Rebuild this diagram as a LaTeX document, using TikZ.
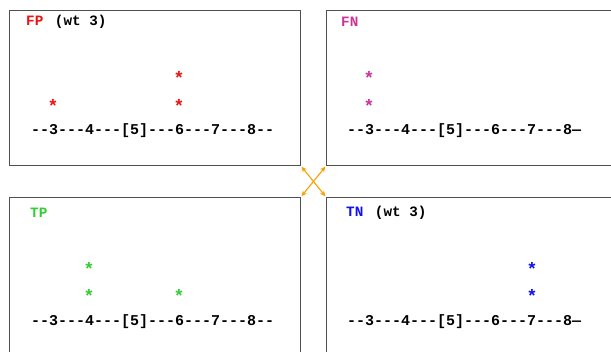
\documentclass[tikz,border=0pt]{standalone}
\usepackage{fontspec}
\usetikzlibrary{arrows.meta}
\newfontfamily\monofam{Liberation Mono}
\definecolor{fpred}{HTML}{F01010}
\definecolor{fnpink}{HTML}{CC3399}
\definecolor{tpgreen}{HTML}{33CC33}
\definecolor{tnblue}{HTML}{1010F0}
\definecolor{arroworange}{HTML}{F7A000}
\definecolor{boxgray}{HTML}{505050}
\begin{document}
\begin{tikzpicture}[x=1pt,y=-1pt,
  panel/.style={draw=boxgray,line width=0.9pt,anchor=north west,inner sep=0pt,rectangle},
  title/.style={anchor=west,inner sep=0pt,font=\monofam\bfseries\fontsize{14.3}{16}\selectfont},
  numline/.style={anchor=west,inner sep=0pt,font=\monofam\bfseries\fontsize{15}{17}\selectfont},
  astk/.style={anchor=base,inner sep=0pt,font=\monofam\bfseries\fontsize{18}{20}\selectfont},
  swap/.style={draw=arroworange,line width=1.1pt,{Stealth[length=5.5pt,width=5pt]}-{Stealth[length=5.5pt,width=5pt]},shorten >=1pt,shorten <=1pt}]
\useasboundingbox (0,0) rectangle (611,352);
\clip (0,0) rectangle (611,352);
% panels
\node[panel,minimum width=291pt,minimum height=155pt] (fp) at (9,10) {};
\node[panel,minimum width=300pt,minimum height=155pt] (fn) at (326,10) {};
\node[panel,minimum width=291pt,minimum height=170pt] (tp) at (9,197) {};
\node[panel,minimum width=300pt,minimum height=170pt] (tn) at (326,197) {};
% titles
\node[title] (fpt) at (26,22) {\textcolor{fpred}{FP}\hspace{3pt} (wt 3)};
\node[title] (fnt) at (341,22) {\textcolor{fnpink}{FN}};
\node[title] (tpt) at (30,213) {\textcolor{tpgreen}{TP}};
\node[title] (tnt) at (346,213) {\textcolor{tnblue}{TN}\hspace{3pt} (wt 3)};
% number lines
\node[numline] (fpl) at (31,131) {--3---4---[5]---6---7---8--};
\node[numline] (fnl) at (347,131) {--3---4---[5]---6---7---8—};
\node[numline] (tpl) at (31,322) {--3---4---[5]---6---7---8--};
\node[numline] (tnl) at (347,322) {--3---4---[5]---6---7---8—};
% stars (baseline placed below glyph centre)
\node[astk,text=fpred] (fps1) at (53,112.5) {*};
\node[astk,text=fpred] (fps2) at (179,112.5) {*};
\node[astk,text=fpred] (fps3) at (179,84.5) {*};
\node[astk,text=fnpink] (fns1) at (369,112.5) {*};
\node[astk,text=fnpink] (fns2) at (369,84.5) {*};
\node[astk,text=tpgreen] (tps1) at (89,302.5) {*};
\node[astk,text=tpgreen] (tps2) at (89,275.5) {*};
\node[astk,text=tpgreen] (tps3) at (179,302.5) {*};
\node[astk,text=tnblue] (tns1) at (532,302.5) {*};
\node[astk,text=tnblue] (tns2) at (532,275.5) {*};
% swap arrows
\draw[swap] (fp.south east) -- (tn.north west);
\draw[swap] (fn.south west) -- (tp.north east);
\end{tikzpicture}
\end{document}
